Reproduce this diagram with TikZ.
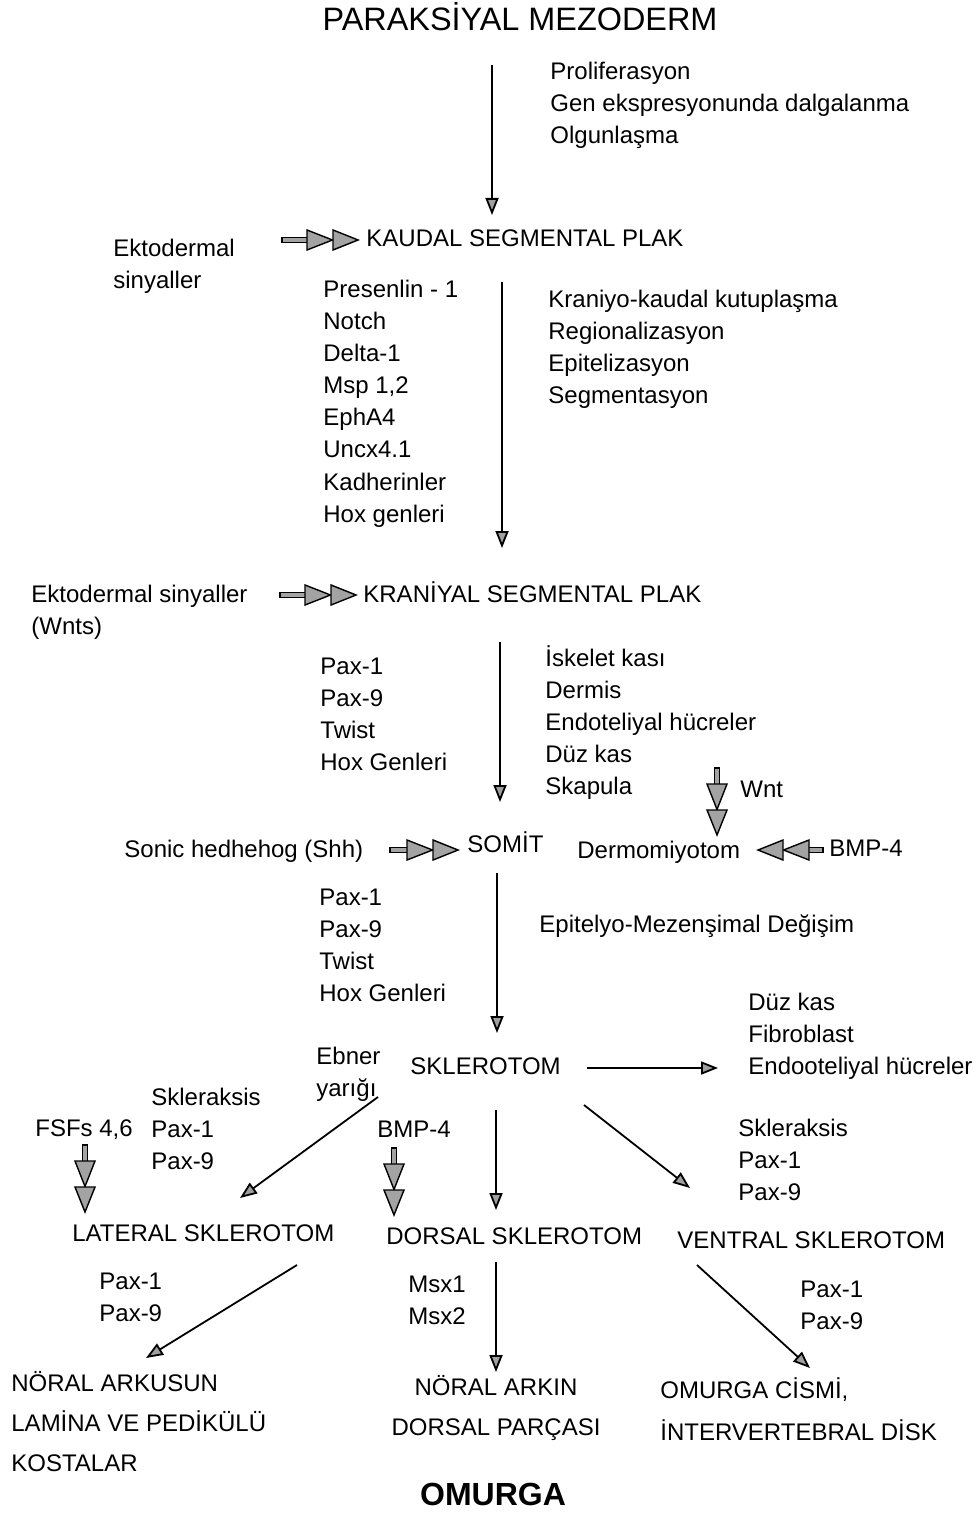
\documentclass[tikz,border=0pt]{standalone}
\usepackage{fontspec}
\setmainfont{Liberation Sans}
\usetikzlibrary{arrows.meta}
\tikzset{
  lbl/.style={anchor=base west, inner sep=0pt, font=\fontsize{12}{16}\selectfont},
  lblc/.style={anchor=base, inner sep=0pt, font=\fontsize{12}{16}\selectfont},
  arr/.style={line width=0.9pt, -{Triangle[length=8.5pt,width=6.5pt,fill=gray!75]}},
  dblfill/.style={draw=black, line width=0.7pt, fill=gray!72},
}
\newcommand\dblarw[3]{%
  \begin{scope}[shift={#1}, rotate=#2]
    \draw[dblfill] (-#3,-2.5) rectangle (-50,2.5);
    \draw[dblfill] (-51,-10) -- (-25.5,0) -- (-51,10) -- cycle;
    \draw[dblfill] (-25,-10) -- (0,0) -- (-25,10) -- cycle;
  \end{scope}}
\begin{document}
\begin{tikzpicture}[x=0.5pt,y=-0.5pt]
\useasboundingbox (0,0) rectangle (977,1513);
% title
\node[anchor=base, inner sep=0pt, font=\fontsize{16.2}{20}\selectfont] (title) at (520,31) {PARAKS\.IYAL MEZODERM};
\foreach \t [count=\i] in {Proliferasyon, Gen ekspresyonunda dalgalanma, Olgunlaşma}
  \node[lbl] (a\i) at (550,{80+32*(\i-1)}) {\t};
% Kaudal
\node[lbl] (ekt1) at (113,257) {Ektodermal};
\node[lbl] (ekt2) at (113,289) {sinyaller};
\node[lbl] (kaudal) at (366,247) {KAUDAL SEGMENTAL PLAK};
\foreach \t [count=\i] in {Presenlin - 1, Notch, Delta-1, {Msp 1,2}, EphA4, Uncx4.1, Kadherinler, Hox genleri}
  \node[lbl] (b\i) at (323,{298+32*(\i-1)}) {\t};
\foreach \t [count=\i] in {Kraniyo-kaudal kutuplaşma, Regionalizasyon, Epitelizasyon, Segmentasyon}
  \node[lbl] (c\i) at (548,{308+32*(\i-1)}) {\t};
% Kraniyal
\node[lbl] (ekt3) at (31,602) {Ektodermal sinyaller};
\node[lbl] (wnts) at (31,634) {(Wnts)};
\node[lbl] (kraniyal) at (363,602) {KRAN\.IYAL SEGMENTAL PLAK};
\foreach \t [count=\i] in {Pax-1, Pax-9, Twist, Hox Genleri}
  \node[lbl] (d\i) at (320,{674+32*(\i-1)}) {\t};
\foreach \t [count=\i] in {İskelet kası, Dermis, Endoteliyal hücreler, Düz kas, Skapula}
  \node[lbl] (e\i) at (545,{666+32*(\i-1)}) {\t};
\node[lbl] (wnt) at (740,797) {Wnt};
% Somit
\node[lbl] (shh) at (124,857) {Sonic hedhehog (Shh)};
\node[lbl] (somit) at (467,852) {SOM\.IT};
\node[lbl] (dermo) at (577,858) {Dermomiyotom};
\node[lbl] (bmp1) at (829,856) {BMP-4};
\foreach \t [count=\i] in {Pax-1, Pax-9, Twist, Hox Genleri}
  \node[lbl] (f\i) at (319,{905+32*(\i-1)}) {\t};
\node[lbl] (emd) at (539,932) {Epitelyo-Mezenşimal Değişim};
\foreach \t [count=\i] in {Düz kas, Fibroblast, Endooteliyal hücreler}
  \node[lbl] (g\i) at (748,{1010+32*(\i-1)}) {\t};
% Sklerotom
\node[lbl] (sklerotom) at (410,1074) {SKLEROTOM};
\node[lbl] (ebner1) at (316,1064) {Ebner};
\node[lbl] (ebner2) at (316,1096) {yarığı};
\foreach \t [count=\i] in {Skleraksis, Pax-1, Pax-9}
  \node[lbl] (h\i) at (151,{1105+32*(\i-1)}) {\t};
\node[lbl] (fsf) at (35,1136) {FSFs 4,6};
\node[lbl] (bmp2) at (377,1137) {BMP-4};
\foreach \t [count=\i] in {Skleraksis, Pax-1, Pax-9}
  \node[lbl] (k\i) at (738,{1136+32*(\i-1)}) {\t};
\node[lbl] (lateral) at (72,1241) {LATERAL SKLEROTOM};
\node[lbl] (dorsal) at (386,1244) {DORSAL SKLEROTOM};
\node[lbl] (ventral) at (677,1248) {VENTRAL SKLEROTOM};
\node[lbl] (m1) at (99,1289) {Pax-1};
\node[lbl] (m2) at (99,1321) {Pax-9};
\node[lbl] (n1) at (408,1292) {Msx1};
\node[lbl] (n2) at (408,1324) {Msx2};
\node[lbl] (o1) at (800,1297) {Pax-1};
\node[lbl] (o2) at (800,1329) {Pax-9};
% outcomes
\node[lbl] (out1a) at (11,1391) {NÖRAL ARKUSUN};
\node[lbl] (out1b) at (11,1431) {LAM\.INA VE PED\.IKÜLÜ};
\node[lbl] (out1c) at (11,1471) {KOSTALAR};
\node[lblc] (out2a) at (496,1395) {NÖRAL ARKIN};
\node[lblc] (out2b) at (496,1435) {DORSAL PARÇASI};
\node[lbl] (out3a) at (660,1398) {OMURGA C\.ISM\.I,};
\node[lbl] (out3b) at (660,1440) {\.INTERVERTEBRAL D\.ISK};
\node[anchor=base, inner sep=0pt, font=\fontsize{16}{20}\selectfont\bfseries] (omurga) at (493,1505) {OMURGA};
% thin arrows (coordinates)
\coordinate (s1) at (492,65);   \coordinate (t1) at (492,215);
\coordinate (s2) at (502,282);  \coordinate (t2) at (502,548);
\coordinate (s3) at (500,642);  \coordinate (t3) at (500,802);
\coordinate (s4) at (497,873);  \coordinate (t4) at (497,1033);
\coordinate (s5) at (587,1068); \coordinate (t5) at (718,1068);
\coordinate (s6) at (378,1097); \coordinate (t6) at (240,1198);
\coordinate (s7) at (496,1110); \coordinate (t7) at (496,1210);
\coordinate (s8) at (584,1105); \coordinate (t8) at (690,1188);
\coordinate (s9) at (297,1265); \coordinate (t9) at (146,1358);
\coordinate (s10) at (496,1262); \coordinate (t10) at (496,1372);
\coordinate (s11) at (697,1265); \coordinate (t11) at (810,1368);
\foreach \i in {1,...,11} \draw[arr] (s\i) -- (t\i);
% double arrows
\dblarw{(358,240)}{0}{76}
\dblarw{(356,595)}{0}{76}
\dblarw{(458,850)}{0}{68}
\dblarw{(758,850)}{180}{65}
\dblarw{(717,835)}{-90}{67}
\dblarw{(85,1212)}{-90}{67}
\dblarw{(394,1215)}{-90}{67}
\end{tikzpicture}
\end{document}
